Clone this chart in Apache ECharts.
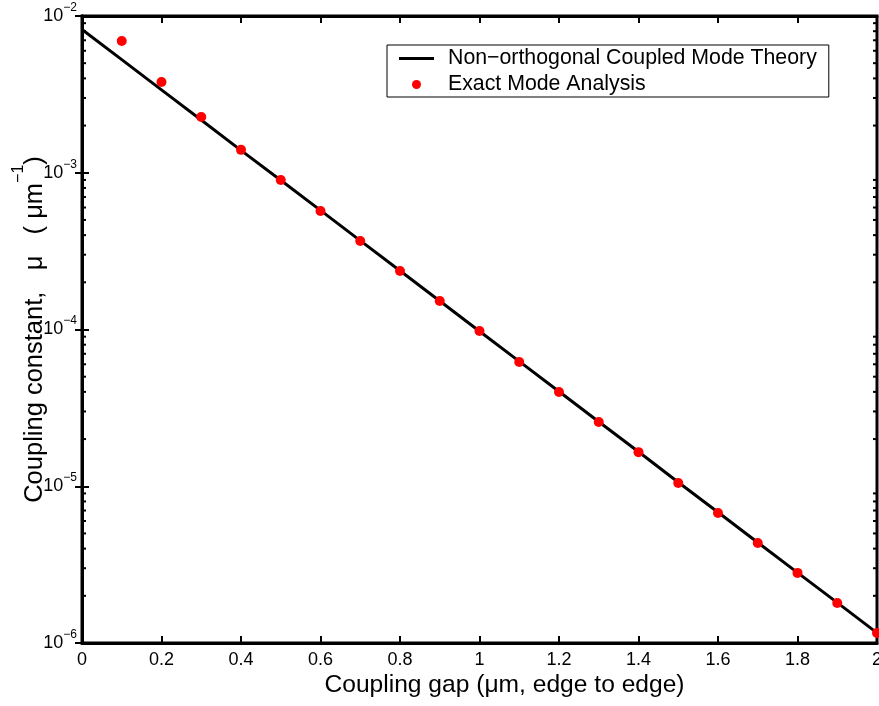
<!DOCTYPE html>
<html>
<head>
<meta charset="utf-8">
<script src="https://cdn.jsdelivr.net/npm/echarts@6/dist/echarts.min.js"></script>
<style>
  html, body { margin: 0; padding: 0; background: #fff; }
  #chart { width: 879px; height: 706px; }
</style>
</head>
<body>
<div id="chart"></div>
<script>
// Coupling gap (µm, edge to edge)
const gaps = [0.1, 0.2, 0.3, 0.4, 0.5, 0.6, 0.7, 0.8, 0.9, 1.0,
              1.1, 1.2, 1.3, 1.4, 1.5, 1.6, 1.7, 1.8, 1.9, 2.0];
// Exact mode analysis (µm^-1)
const exactMu = [6.93e-3, 3.79e-3, 2.27e-3, 1.40e-3, 8.99e-4, 5.70e-4, 3.67e-4, 2.36e-4, 1.52e-4, 9.77e-5,
                 6.21e-5, 3.99e-5, 2.57e-5, 1.65e-5, 1.05e-5, 6.75e-6, 4.34e-6, 2.80e-6, 1.80e-6, 1.16e-6];
// Non-orthogonal coupled mode theory curve
const theoryGaps = [0, 0.1, 0.2, 0.3, 0.4, 0.5, 0.6, 0.7, 0.8, 0.9, 1.0,
                    1.1, 1.2, 1.3, 1.4, 1.5, 1.6, 1.7, 1.8, 1.9, 2.0];
const theoryMu = [8.2e-3, 5.27e-3, 3.38e-3, 2.17e-3, 1.39e-3, 8.96e-4, 5.75e-4, 3.69e-4, 2.37e-4, 1.52e-4, 9.75e-5,
                  6.26e-5, 4.02e-5, 2.58e-5, 1.66e-5, 1.06e-5, 6.83e-6, 4.38e-6, 2.81e-6, 1.81e-6, 1.16e-6];
// Axis ticks
const xTicks = [0, 0.2, 0.4, 0.6, 0.8, 1, 1.2, 1.4, 1.6, 1.8, 2];
const yDecades = [-6, -5, -4, -3, -2];
const minorMantissas = [2, 3, 4, 5, 6, 7, 8, 9];

const legendNames = ['Non\u2212orthogonal Coupled Mode Theory', 'Exact Mode Analysis'];

const FONT = '"Liberation Sans", Arial, Helvetica, sans-serif';
const xMin = xTicks[0], xMax = xTicks[xTicks.length - 1];
const yMin = Math.pow(10, yDecades[0]), yMax = Math.pow(10, yDecades[yDecades.length - 1]);

// minor tick values on the log axis (2..9 of each decade)
const minorVals = [];
yDecades.slice(0, -1).forEach(d => minorMantissas.forEach(m => minorVals.push([m * Math.pow(10, d)])));

const chart = echarts.init(document.getElementById('chart'), null, { renderer: 'canvas' });

function powLabel(v) {
  const e = Math.round(Math.log10(v));
  return '{b|10}{s|' + (e < 0 ? '\u2212' + (-e) : e) + '}';
}
const powRich = {
  b: { fontSize: 18, fontFamily: FONT, color: '#000', lineHeight: 29 },
  s: { fontSize: 12, fontFamily: FONT, color: '#000', verticalAlign: 'top' }
};

const option = {
  backgroundColor: '#fff',
  animation: false,
  grid: { left: 82, right: 2, top: 16, bottom: 63, outerBoundsMode: 'none', containLabel: false,
          show: true, borderColor: '#000', borderWidth: 3 },
  legend: {
    orient: 'vertical',
    left: 387, top: 45,
    padding: [3, 12, 2, 12],
    itemGap: 5,
    itemWidth: 35, itemHeight: 9,
    backgroundColor: '#fff',
    borderColor: '#000', borderWidth: 1,
    textStyle: { fontSize: 21.3, lineHeight: 21, fontFamily: FONT, color: '#000', padding: [0, 0, 0, 9] },
    data: [
      { name: legendNames[0], icon: 'path://M0,0L35,0L35,3L0,3Z' },
      { name: legendNames[1], icon: 'circle' }
    ]
  },
  xAxis: [{
    type: 'value', min: xMin, max: xMax, interval: 0.2,
    name: 'Coupling gap (\u03bcm, edge to edge)',
    nameLocation: 'middle', nameGap: 30, nameMoveOverlap: false,
    nameTextStyle: { fontSize: 24.6, fontFamily: FONT, color: '#000', padding: [0, 0, 0, 50] },
    axisLine: { show: true, lineStyle: { color: '#000', width: 3 } },
    axisTick: { show: true, inside: true, length: 7, lineStyle: { color: '#000', width: 2 } },
    axisLabel: { fontSize: 18, fontFamily: FONT, color: '#000', margin: 8,
                 formatter: v => String(Math.round(v * 10) / 10) },
    splitLine: { show: false }
  }, {
    type: 'value', position: 'top', min: xMin, max: xMax, interval: 0.2,
    axisLine: { show: true, lineStyle: { color: '#000', width: 3 } },
    axisTick: { show: true, inside: true, length: 7, lineStyle: { color: '#000', width: 2 } },
    axisLabel: { show: false }, splitLine: { show: false }
  }],
  yAxis: [{
    type: 'log', logBase: 10, min: yMin, max: yMax, splitNumber: 4,
    name: '{t|Coupling constant,   \u03bc   ( \u03bcm}{s|\u22121}{t|)}',
    nameLocation: 'middle', nameGap: 23, nameRotate: 90, nameMoveOverlap: false,
    nameTextStyle: {
      rich: {
        t: { fontSize: 25.5, fontFamily: FONT, color: '#000', lineHeight: 48 },
        s: { fontSize: 16, fontFamily: FONT, color: '#000', verticalAlign: 'top' }
      }
    },
    axisLine: { show: true, lineStyle: { color: '#000', width: 3 } },
    axisTick: { show: true, inside: true, length: 7, lineStyle: { color: '#000', width: 2 } },
    axisLabel: { margin: 5, formatter: powLabel, rich: powRich },
    splitLine: { show: false }, minorTick: { show: false }
  }, {
    type: 'log', logBase: 10, min: yMin, max: yMax, splitNumber: 4, position: 'right',
    axisLine: { show: true, lineStyle: { color: '#000', width: 3 } },
    axisTick: { show: true, inside: true, length: 7, lineStyle: { color: '#000', width: 2 } },
    axisLabel: { show: false }, splitLine: { show: false }
  }],
  series: [
    {
      name: legendNames[0],
      type: 'line',
      data: theoryGaps.map((g, i) => [g, theoryMu[i]]),
      showSymbol: false, symbol: 'none',
      lineStyle: { color: '#000', width: 3 },
      itemStyle: { color: '#000' },
      clip: true, z: 3
    },
    {
      name: legendNames[1],
      type: 'scatter',
      data: gaps.map((g, i) => [g, exactMu[i]]),
      symbol: 'circle', symbolSize: 10,
      itemStyle: { color: '#ff0000', opacity: 1 },
      clip: false, z: 4
    },
    {
      // minor ticks of the log axis, drawn inward on the left and right frame
      type: 'custom',
      data: minorVals,
      encode: { y: 0 },
      silent: true, clip: false, z: 5,
      renderItem: (params, api) => {
        const v = api.value(0);
        const pL = api.coord([xMin, v]);
        const pR = api.coord([xMax, v]);
        const st = { stroke: '#000', lineWidth: 2 };
        return {
          type: 'group',
          children: [
            { type: 'line', shape: { x1: pL[0], y1: pL[1], x2: pL[0] + 4, y2: pL[1] }, style: st },
            { type: 'line', shape: { x1: pR[0], y1: pR[1], x2: pR[0] - 4, y2: pR[1] }, style: st }
          ]
        };
      }
    }
  ]
};
chart.setOption(option);
</script>
</body>
</html>
